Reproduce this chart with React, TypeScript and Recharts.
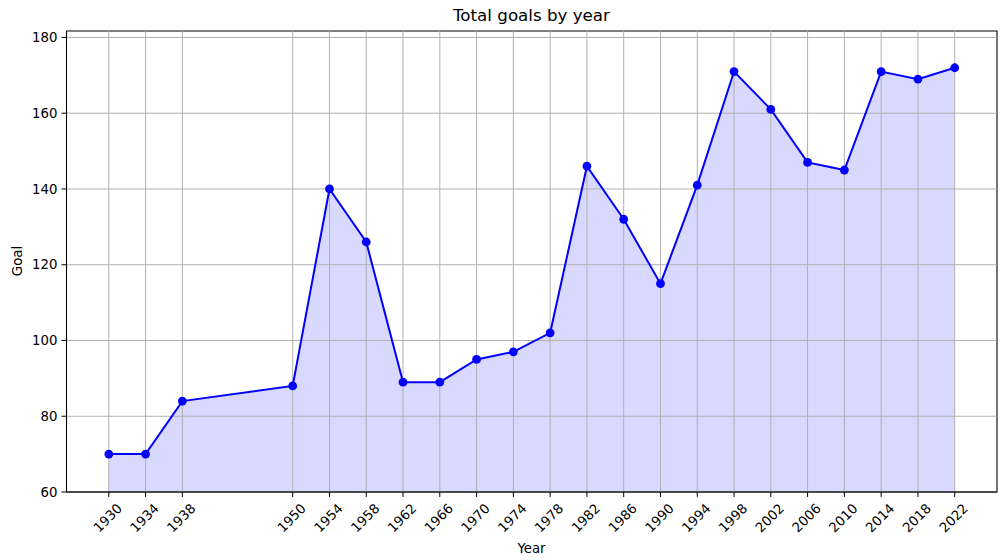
import React from 'react';
import {
    ComposedChart,
    Area,
    Line,
    XAxis,
    YAxis,
    ReferenceLine,
    ReferenceArea
} from 'recharts';

const years = [1930, 1934, 1938, 1950, 1954, 1958, 1962, 1966, 1970, 1974, 1978, 1982, 1986, 1990, 1994, 1998, 2002, 2006, 2010, 2014, 2018, 2022];
const goals = [70, 70, 84, 88, 140, 126, 89, 89, 95, 97, 102, 146, 132, 115, 141, 171, 161, 147, 145, 171, 169, 172];
const yTicks = [60, 80, 100, 120, 140, 160, 180];

const X_DOMAIN: [number, number] = [1925.4, 2026.6];
const Y_DOMAIN: [number, number] = [60, 181.7];

const data = years.map((year, i) => ({ year, goals: goals[i] }));

const FONT = 'DejaVu Sans, sans-serif';
const GRID = '#b0b0b0';

// rotated year labels, centred under the tick like matplotlib's rotation=45
const YearTick = ({ x, y, payload }: any) => (
    <text
        transform={`translate(${x - 1},${y + 19}) rotate(-45)`}
        textAnchor="middle"
        dominantBaseline="central"
        fontFamily={FONT}
        fontSize={13.3}
        fill="#000"
    >
        {payload.value}
    </text>
);

export default function App() {
    return (
        <div style={{ position: 'absolute', left: 0, top: 0, width: 1003, height: 560, background: '#fff', fontFamily: FONT }}>
            <div style={{ position: 'absolute', top: 5, left: 0, width: 1063, textAlign: 'center', fontSize: 16.7, color: '#000' }}>
                Total goals by year
            </div>
            <div style={{ position: 'absolute', top: 541, left: 0, width: 1063, textAlign: 'center', fontSize: 13.3, color: '#000' }}>
                Year
            </div>
            <div
                style={{
                    position: 'absolute',
                    left: 17,
                    top: 261,
                    transform: 'translate(-50%, -50%) rotate(-90deg)',
                    fontSize: 13.3,
                    color: '#000',
                    whiteSpace: 'nowrap'
                }}
            >
                Goal
            </div>
            <ComposedChart
                width={1003}
                height={560}
                data={data}
                margin={{ top: 31, right: 6, left: 0, bottom: 0 }}
                style={{ position: 'absolute', left: 0, top: 0 }}
            >
                <XAxis
                    dataKey="year"
                    type="number"
                    domain={X_DOMAIN}
                    ticks={years}
                    allowDataOverflow
                    interval={0}
                    height={68}
                    tickSize={5}
                    stroke="#000"
                    tick={<YearTick />}
                />
                <YAxis
                    type="number"
                    domain={Y_DOMAIN}
                    ticks={yTicks}
                    allowDataOverflow
                    width={66.5}
                    tickSize={5}
                    tickMargin={4}
                    stroke="#000"
                    tick={{ fill: '#000', fontSize: 13.3, fontFamily: FONT }}
                />
                {/* fill first, then grid on top of it, then the line with markers */}
                <Area
                    type="linear"
                    dataKey="goals"
                    stroke="none"
                    fill="#0000ff"
                    fillOpacity={0.15}
                    baseValue={60}
                    dot={false}
                    activeDot={false}
                    isAnimationActive={false}
                />
                {years.map((yr) => (
                    <ReferenceLine key={`vx-${yr}`} x={yr} stroke={GRID} strokeWidth={1} />
                ))}
                {yTicks.map((v) => (
                    <ReferenceLine key={`hy-${v}`} y={v} stroke={GRID} strokeWidth={1} />
                ))}
                <Line
                    type="linear"
                    dataKey="goals"
                    stroke="#0000ff"
                    strokeWidth={2}
                    dot={{ r: 4.4, fill: '#0000ff', stroke: 'none', fillOpacity: 1 }}
                    activeDot={false}
                    isAnimationActive={false}
                />
                <ReferenceArea
                    x1={X_DOMAIN[0]}
                    x2={X_DOMAIN[1]}
                    y1={Y_DOMAIN[0]}
                    y2={Y_DOMAIN[1]}
                    fill="none"
                    stroke="#000"
                    strokeWidth={1.1}
                />
            </ComposedChart>
        </div>
    );
}
